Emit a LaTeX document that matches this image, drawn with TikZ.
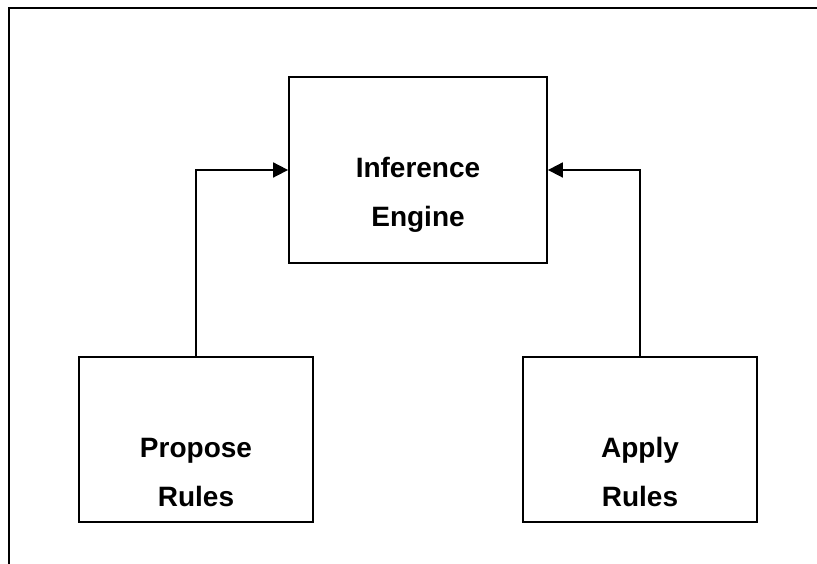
\documentclass[tikz,border=0pt]{standalone}
\usepackage{fontspec}
\setmainfont{Liberation Sans}
\usetikzlibrary{arrows.meta}
\begin{document}
\begin{tikzpicture}[x=1pt,y=1pt,
  box/.style={draw=black,line width=1.8pt,fill=white,inner sep=0pt},
  lbl/.style={anchor=base,inner sep=0pt,font=\fontsize{28}{30}\selectfont\bfseries},
  conn/.style={line width=1.8pt,-{Triangle[length=15pt,width=15pt]}}]
\useasboundingbox (0,0) rectangle (817,564);
\coordinate (ftl) at (9,556);
\coordinate (ftr) at (817,556);
\coordinate (fbl) at (9,0);
\draw[line width=2pt] (fbl) -- (ftl) -- (ftr);
\node[box,minimum width=258pt,minimum height=186pt] (inf) at (418,394) {};
\node[box,minimum width=234pt,minimum height=165pt] (prop) at (196,124.5) {};
\node[box,minimum width=234pt,minimum height=165pt] (app) at (640,124.5) {};
\node[lbl] (t1) at (418,386) {Inference};
\node[lbl] (t2) at (418,337) {Engine};
\node[lbl] (t3) at (196,106) {Propose};
\node[lbl] (t4) at (196,57) {Rules};
\node[lbl] (t5) at (640,106) {Apply};
\node[lbl] (t6) at (640,57) {Rules};
\draw[conn] (prop.north) |- (inf.west);
\draw[conn] (app.north) |- (inf.east);
\end{tikzpicture}
\end{document}
